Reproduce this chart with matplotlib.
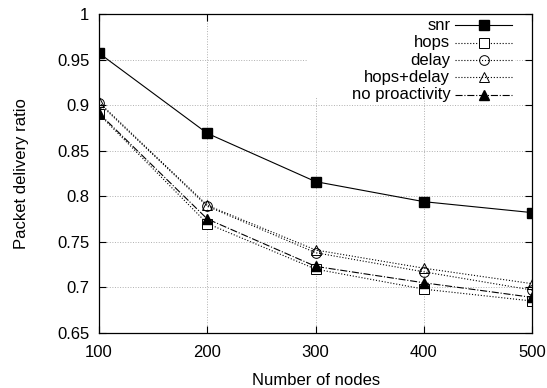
import matplotlib
matplotlib.use('Agg')
import matplotlib.pyplot as plt
from matplotlib.lines import Line2D
from matplotlib.patches import Rectangle

plt.rcParams['font.family'] = ['Liberation Sans', 'DejaVu Sans']

# data
nodes = [100, 200, 300, 400, 500]
snr = [0.957, 0.869, 0.816, 0.794, 0.782]
hops = [0.890, 0.770, 0.720, 0.698, 0.685]
delay = [0.902, 0.789, 0.738, 0.717, 0.697]
hops_delay = [0.903, 0.790, 0.741, 0.721, 0.704]
no_proact = [0.891, 0.775, 0.723, 0.705, 0.689]

xticks = [100, 200, 300, 400, 500]
yticks = [0.65, 0.7, 0.75, 0.8, 0.85, 0.9, 0.95, 1.0]
ytick_labels = ['0.65', '0.7', '0.75', '0.8', '0.85', '0.9', '0.95', '1']

fig = plt.figure(figsize=(5.47, 3.88), dpi=100)
ax = fig.add_axes([0.181, 0.142, 0.792, 0.822])

lw = 0.8
styles = [
    ('snr', snr, dict(ls='-', marker='s', mfc='black')),
    ('hops', hops, dict(ls=':', marker='s', mfc='white', mew=0.7)),
    ('delay', delay, dict(ls=':', marker='o', mfc='none', mew=0.7)),
    ('hops+delay', hops_delay, dict(ls=':', marker='^', mfc='none', mew=0.7)),
    ('no proactivity', no_proact, dict(ls='-.', marker='^', mfc='black')),
]
for name, vals, kw in styles:
    ax.plot(nodes, vals, color='black', lw=lw, ms=7, mec='black',
            label=name, zorder=3, **kw)

ax.set_xlim(100, 500)
ax.set_ylim(0.65, 1.0)
ax.set_xticks(xticks)
ax.set_yticks(yticks)
ax.set_yticklabels(ytick_labels)
ax.tick_params(direction='in', top=True, right=True, length=5,
               labelsize=12, width=0.8)
ax.tick_params(axis='x', pad=9)
ax.tick_params(axis='y', pad=7)
ax.grid(True, linestyle=':', color='#b0b0b0', lw=0.7)
for s in ax.spines.values():
    s.set_linewidth(0.9)
    s.set_zorder(4)

ax.set_xlabel('Number of nodes', fontsize=12, labelpad=9)
ax.set_ylabel('Packet delivery ratio', fontsize=12, labelpad=20)

# gnuplot style key: text right-aligned, sample to its right, white box
ax.add_patch(Rectangle((0.48, 0.74), 0.48, 0.26, transform=ax.transAxes,
                       facecolor='white', edgecolor='none', zorder=1.8))
y0, dy = 0.9646, 0.0545
for i, (name, vals, kw) in enumerate(styles):
    y = y0 - i * dy
    ax.text(0.811, y, name, transform=ax.transAxes, ha='right',
            va='center', fontsize=12, zorder=5)
    ax.add_line(Line2D([0.822, 0.954], [y, y], transform=ax.transAxes,
                       color='black', lw=lw, ls=kw['ls'], zorder=5))
    ax.add_line(Line2D([0.888], [y], transform=ax.transAxes, color='black',
                       ms=7, mec='black', marker=kw['marker'],
                       mfc=kw['mfc'], mew=kw.get('mew', 1.0), zorder=5))

plt.savefig('out.png', dpi=100)
